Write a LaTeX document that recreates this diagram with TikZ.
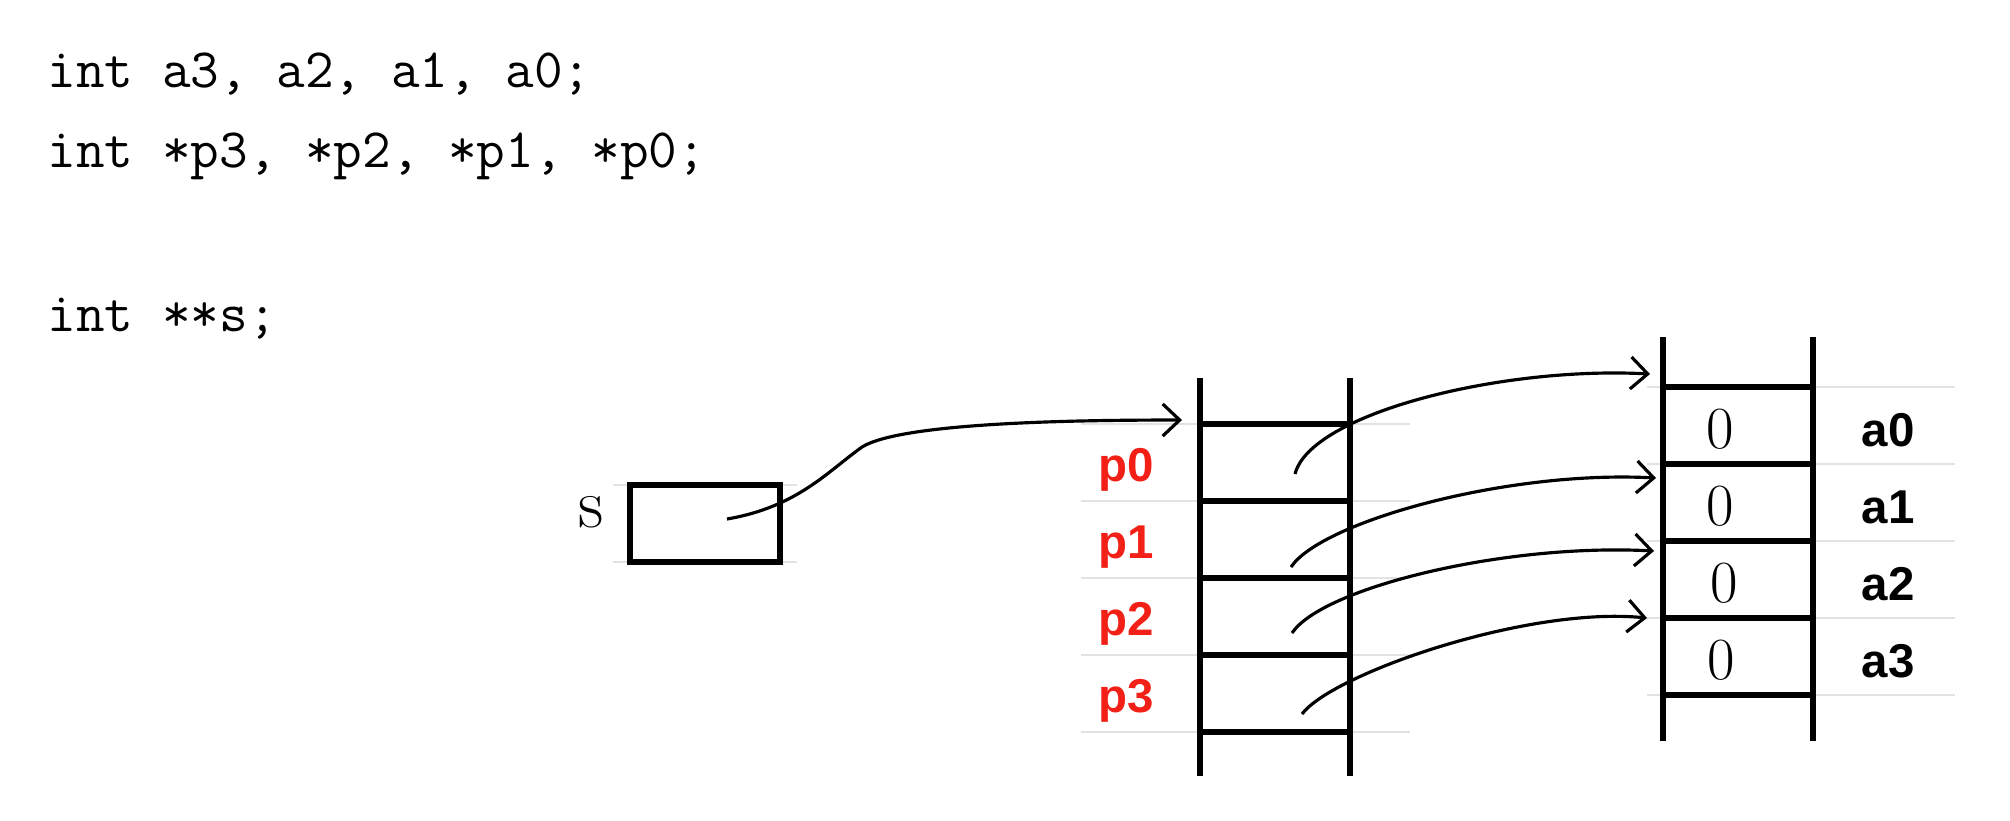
\documentclass[tikz,border=0pt]{standalone}
\usepackage{fontspec}
\newfontfamily\labelfont{Liberation Sans}
\usetikzlibrary{arrows.meta}
\definecolor{ptrred}{RGB}{242,32,22}
\definecolor{rulegray}{RGB}{226,226,226}
\tikzset{
  frame/.style={line width=1.6pt},
  guide/.style={rulegray,line width=0.6pt},
  code/.style={anchor=base west,inner sep=0pt,font=\fontsize{15.8}{19}\selectfont\ttfamily},
  ptrlabel/.style={font=\fontsize{13.5}{16}\selectfont\labelfont\bfseries,text=ptrred},
  varlabel/.style={font=\fontsize{13.5}{16}\selectfont\labelfont\bfseries},
  value/.style={font=\fontsize{17}{20}\selectfont\rmfamily},
  hand/.style={line width=0.9pt,-{Straight Barb[length=1.7mm,width=3.2mm]}}
}
\begin{document}
\begin{tikzpicture}[x=0.01cm,y=-0.01cm]
	\useasboundingbox (0,0) rectangle (2010,820);
	
	% Declarations
	\node[code] (d1) at (47,87) {int a3, a2, a1, a0;};
	\node[code] (d2) at (47,167) {int *p3, *p2, *p1, *p0;};
	\node[code] (d3) at (47,331) {int **s;};
	
	% Box for s
	\draw[guide] (613,485) -- ++(184,0) (613,562) -- ++(184,0);
	\node[draw,frame,minimum width=1.5cm,minimum height=0.77cm,inner sep=0pt] (s) at (705,523.5) {};
	\node[font=\fontsize{20}{24}\selectfont\rmfamily] (sname) at (591,512) {s};
	\coordinate (s1) at (727,519);
	\coordinate (sm) at (862,447);
	
	% Pointer column
	\draw[guide] (1081,424) -- ++(329,0) (1081,501) -- ++(329,0) (1081,578) -- ++(329,0) (1081,655) -- ++(329,0) (1081,732) -- ++(329,0);
	\draw[frame] (1200,378) -- (1200,776);
	\draw[frame] (1350,378) -- (1350,776);
	\draw[frame] (1200,424) -- ++(150,0) (1200,501) -- ++(150,0) (1200,578) -- ++(150,0) (1200,655) -- ++(150,0) (1200,732) -- ++(150,0);
	\node[ptrlabel] (p0) at (1126,470) {p0};
	\node[ptrlabel] (p1) at (1126,547) {p1};
	\node[ptrlabel] (p2) at (1126,624) {p2};
	\node[ptrlabel] (p3) at (1126,701) {p3};
	\coordinate (pt) at (1182,420);
	\coordinate (q0) at (1295,474);
	\coordinate (q1) at (1291,567);
	\coordinate (q2) at (1292,633);
	\coordinate (q3) at (1302,714);
	
	% Value column
	\draw[guide] (1647,387) -- ++(308,0) (1647,464) -- ++(308,0) (1647,541) -- ++(308,0) (1647,618) -- ++(308,0) (1647,695) -- ++(308,0);
	\draw[frame] (1663,337) -- (1663,741);
	\draw[frame] (1813,337) -- (1813,741);
	\draw[frame] (1663,387) -- ++(150,0) (1663,464) -- ++(150,0) (1663,541) -- ++(150,0) (1663,618) -- ++(150,0) (1663,695) -- ++(150,0);
	\node[value] (v0) at (1720,429) {0};
	\node[value] (v1) at (1720,506) {0};
	\node[value] (v2) at (1724,583) {0};
	\node[value] (v3) at (1721,660) {0};
	\node[varlabel] (a0) at (1888,430) {a0};
	\node[varlabel] (a1) at (1888,507) {a1};
	\node[varlabel] (a2) at (1888,584) {a2};
	\node[varlabel] (a3) at (1888,661) {a3};
	\coordinate (t0) at (1650,374);
	\coordinate (t1) at (1656,478);
	\coordinate (t2) at (1654,551);
	\coordinate (t3) at (1647,618);
	
	% Arrows
	\draw[hand] (s1) .. controls +(70,-12) and +(-35,25) .. (sm) .. controls +(40,-25) and +(-100,0) .. (pt);
	\draw[hand] (q0) .. controls +(15,-60) and +(-150,-8) .. (t0);
	\draw[hand] (q1) .. controls +(30,-45) and +(-150,-8) .. (t1);
	\draw[hand] (q2) .. controls +(30,-45) and +(-150,-8) .. (t2);
	\draw[hand] (q3) .. controls +(30,-40) and +(-120,-12) .. (t3);
	
\end{tikzpicture}
\end{document}
